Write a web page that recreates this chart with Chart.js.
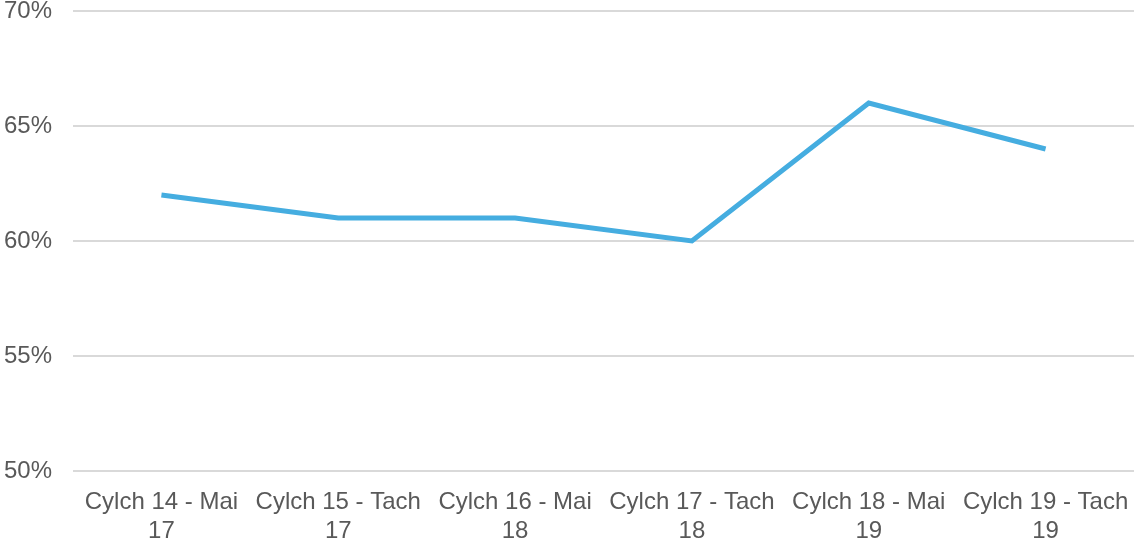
<!DOCTYPE html>
<html><head><meta charset="utf-8">
<script src="https://cdn.jsdelivr.net/npm/chart.js@4/dist/chart.umd.min.js"></script>
<style>html,body{margin:0;padding:0;background:#fff}#wrap{width:1134px;height:539px}</style>
</head><body><div id="wrap"><canvas id="c" width="1134" height="539"></canvas></div>
<script>
const categories = [["Cylch 14 - Mai","17"],["Cylch 15 - Tach","17"],["Cylch 16 - Mai","18"],["Cylch 17 - Tach","18"],["Cylch 18 - Mai","19"],["Cylch 19 - Tach","19"]];
const values = [62, 61, 61, 60, 66, 64];
const yMin = 50, yMax = 70, yStep = 5;

new Chart(document.getElementById('c'), {
  type: 'line',
  data: { labels: categories, datasets: [{ data: values, borderColor: '#45ADE0', borderWidth: 5, pointRadius: 0, tension: 0, borderJoinStyle: 'miter', borderCapStyle: 'butt', fill: false }] },
  options: {
    responsive: false, animation: false, devicePixelRatio: 1,
    layout: { padding: { top: 11, left: 0, right: 0, bottom: 0 } },
    plugins: { legend: { display: false }, tooltip: { enabled: false } },
    scales: {
      x: {
        offset: true,
        grid: { display: false },
        border: { display: false },
        ticks: { color: '#595959', font: { family: 'Liberation Sans, Arial', size: 24, lineHeight: 1.2 }, padding: 9, maxRotation: 0, autoSkip: false },
        afterFit: a => { a.height = 68; a.paddingLeft = 0; a.paddingRight = 0; }
      },
      y: {
        min: yMin, max: yMax,
        grid: { color: '#d9d9d9', lineWidth: 2, drawTicks: false },
        border: { display: false },
        ticks: { stepSize: yStep, color: '#595959', font: { family: 'Liberation Sans, Arial', size: 24 }, padding: 21, callback: v => v + '%' },
        afterFit: a => { a.width = 73; a.paddingTop = 0; a.paddingBottom = 0; }
      }
    }
  }
});
</script></body></html>
